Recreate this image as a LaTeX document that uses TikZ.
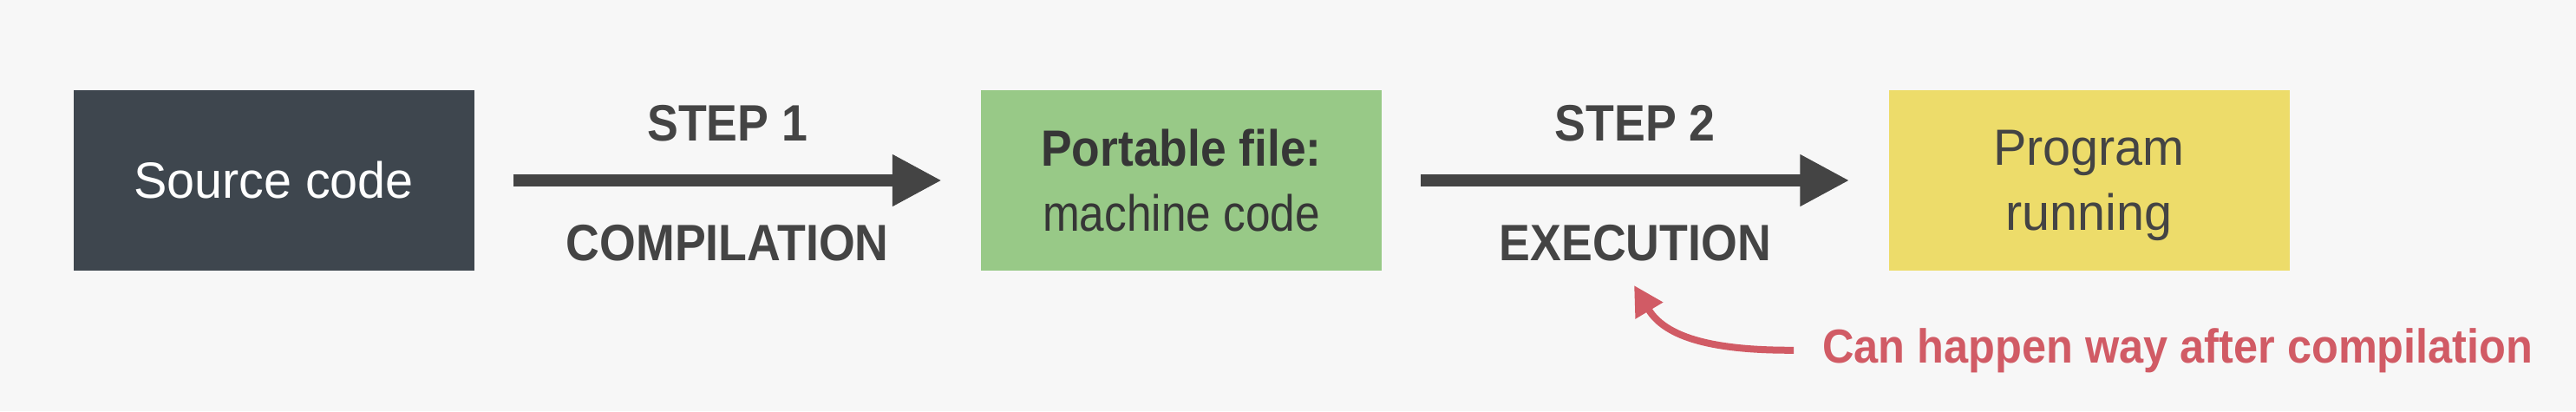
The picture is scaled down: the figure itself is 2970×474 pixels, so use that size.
\documentclass[tikz,border=0pt]{standalone}
\usepackage{fontspec}
\setmainfont{Liberation Sans}[FakeStretch=0.98]
\newfontfamily\boldfam{Liberation Sans}[FakeStretch=0.91]
\newfontfamily\notefam{Liberation Sans}[FakeStretch=0.918]
\newfontfamily\narrowfam{Liberation Sans}[FakeStretch=0.875]
\usetikzlibrary{arrows.meta}
\definecolor{bg}{HTML}{F7F7F7}
\definecolor{slate}{HTML}{3E464E}
\definecolor{boxgreen}{HTML}{98C987}
\definecolor{boxyellow}{HTML}{EDDC6A}
\definecolor{ink}{HTML}{444444}
\definecolor{darkink}{HTML}{363636}
\definecolor{notered}{HTML}{D15B65}
\begin{document}
\begin{tikzpicture}[x=1pt,y=-1pt,
  box/.style={minimum width=462pt,minimum height=208pt,inner sep=0pt,align=center,
    font={\fontsize{58.7}{75}\selectfont}},
  steparrow/.style={line width=14pt,draw=ink,fill=ink,-{Triangle[length=57pt,width=56pt]},
    shorten <=45pt,shorten >=45pt},
  steplabel/.style={font={\boldfam\bfseries\fontsize{59}{70}\selectfont},text=ink,anchor=base,inner sep=0pt},
  notetext/.style={font={\notefam\bfseries\fontsize{55}{66}\selectfont},text=notered,inner xsep=33pt,inner ysep=0pt},
  notearrow/.style={draw=notered,line width=8pt,-{Triangle[length=34pt,width=35pt]}}
]
\useasboundingbox (0,0) rectangle (2970,474);
\fill[bg] (0,0) rectangle (2970,474);

\node[box,fill=slate,text=white] (src) at (315.5,208) {Source code};
\node[box,fill=boxgreen,text=darkink] (port) at (1362,208) {{\boldfam\bfseries Portable file:}\\{\narrowfam machine code}};
\node[box,fill=boxyellow,text=ink] (run) at (2408.5,208) {Program\\\smash{running}};

\draw[steparrow] (src) -- (port)
  node[midway,steplabel,yshift=46pt] {STEP 1}
  node[midway,steplabel,yshift=-92pt] {COMPILATION};
\draw[steparrow] (port) -- (run)
  node[midway,steplabel,yshift=46pt] {STEP 2}
  node[midway,steplabel,yshift=-92pt] {EXECUTION};

\node[notetext,anchor=base west] (note) at (2068,418) {Can happen way after compilation};
\coordinate (notetip) at (1884,329);
\draw[notearrow] (note.west) .. controls (1990,404) and (1923,394) .. (notetip);
\end{tikzpicture}
\end{document}
